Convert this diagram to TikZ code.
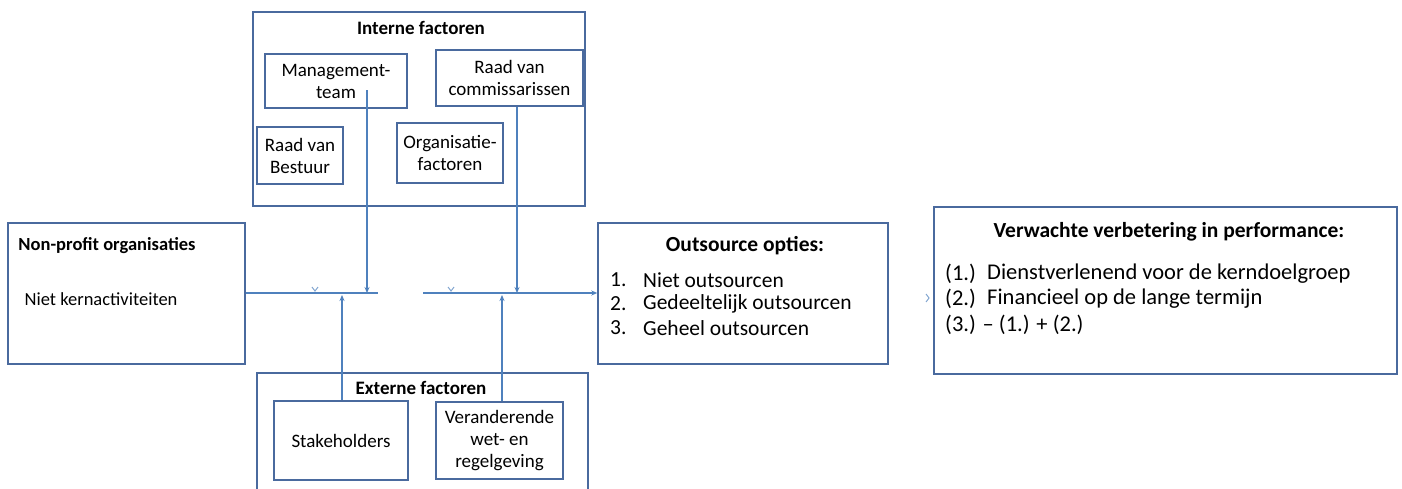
\documentclass[tikz,border=0pt]{standalone}
\usepackage{fontspec}
\setmainfont{Carlito}
\usetikzlibrary{arrows.meta}
\definecolor{boxc}{HTML}{4A6A9E}
\definecolor{linec}{HTML}{4F81BD}
\tikzset{
  box/.style={draw=boxc,line width=1.5pt,inner sep=0pt,align=center,font=\fontsize{19}{22}\selectfont},
  ttl/.style={font=\bfseries\fontsize{19}{22}\selectfont,inner sep=0pt},
  txt/.style={font=\fontsize{21.5}{24}\selectfont,inner sep=0pt,anchor=west},
  ptxt/.style={font=\fontsize{22.5}{26}\selectfont,inner sep=0pt,anchor=west},
  conn/.style={draw=linec,line width=1.3pt},
  arr/.style={conn,-{Stealth[length=6pt,width=5pt]}},
  tick/.style={draw=linec!70,line width=1pt}
}
\begin{document}
\begin{tikzpicture}[x=1pt,y=-1pt]
\useasboundingbox (0,0) rectangle (1402,488);
\clip (0,0) rectangle (1402,488);
% Interne factoren
\node[box,minimum width=332pt,minimum height=194pt] (intf) at (419,109) {};
\node[ttl] (intft) at (421,28) {Interne factoren};
\node[box,minimum width=142pt,minimum height=54pt] (mgmt) at (336,81) {Management-\\team};
\node[box,minimum width=147pt,minimum height=56pt] (rvc) at (509.5,78) {Raad van\\commissarissen};
\node[box,minimum width=86pt,minimum height=57pt] (rvb) at (300,155.5) {Raad van\\Bestuur};
\node[box,minimum width=106pt,minimum height=60pt] (orgf) at (450,153) {Organisatie-\\factoren};
% Non-profit
\node[box,minimum width=237pt,minimum height=141pt] (npo) at (126.5,293.5) {};
\node[ttl,font=\bfseries\fontsize{18.5}{21}\selectfont] (npot) at (107,246) {Non-profit organisaties};
\node[txt,anchor=center,font=\fontsize{18.5}{21}\selectfont] (npok) at (101,299) {Niet kernactiviteiten};
% Externe factoren
\node[box,minimum width=331pt,minimum height=140pt,anchor=north west] (extf) at (256,372) {};
\node[ttl] (extft) at (421,388) {Externe factoren};
\node[box,minimum width=134pt,minimum height=79pt] (stake) at (341,440.5) {Stakeholders};
\node[box,minimum width=127pt,minimum height=77pt] (ver) at (499.5,440.5) {Veranderende\\wet- en\\regelgeving};
% Outsource
\node[box,minimum width=290pt,minimum height=141pt] (outs) at (743,293.5) {};
\node[ttl,font=\bfseries\fontsize{21.5}{24}\selectfont] (outst) at (745,246) {Outsource opties:};
\node[txt] (o1n) at (610,280) {1.};
\node[txt] (o1) at (643,280) {Niet outsourcen};
\node[txt] (o2n) at (610,304) {2.};
\node[txt] (o2) at (643,304) {Gedeeltelijk outsourcen};
\node[txt] (o3n) at (610,328) {3.};
\node[txt] (o3) at (643,328) {Geheel outsourcen};
% Performance
\node[box,minimum width=463pt,minimum height=167pt] (perf) at (1165.5,290.5) {};
\node[ttl,font=\bfseries\fontsize{21.5}{24}\selectfont] (perft) at (1169,232) {Verwachte verbetering in performance:};
\node[ptxt] (p1n) at (945,274) {(1.)};
\node[ptxt] (p1) at (987,274) {Dienstverlenend voor de kerndoelgroep};
\node[ptxt] (p2n) at (945,299) {(2.)};
\node[ptxt] (p2) at (987,299) {Financieel op de lange termijn};
\node[ptxt] (p3) at (945,325) {(3.) – (1.) + (2.)};
% connectors
\coordinate (g1) at (378,293);
\coordinate (g2) at (423,293);
\coordinate (m1) at (367,90);
\coordinate (m2) at (367,293);
\coordinate (r2) at (517,293);
\coordinate (s2) at (342,295);
\coordinate (v2) at (502,295);
\draw[conn] (npo.east |- g1) -- (g1);
\draw[arr] (g2) -- (outs.west |- g2);
\draw[arr] (m1) -- (m2);
\draw[arr] (rvc.south -| r2) -- (r2);
\draw[arr] (stake.north -| s2) -- (s2);
\draw[arr] (ver.north -| v2) -- (v2);
% small tick marks
\draw[tick] (312,287) -- (315,291) -- (318,287);
\draw[tick] (448,287) -- (451,291) -- (454,287);
\draw[tick] (926,294) -- (929,298) -- (926,302);
\end{tikzpicture}
\end{document}
